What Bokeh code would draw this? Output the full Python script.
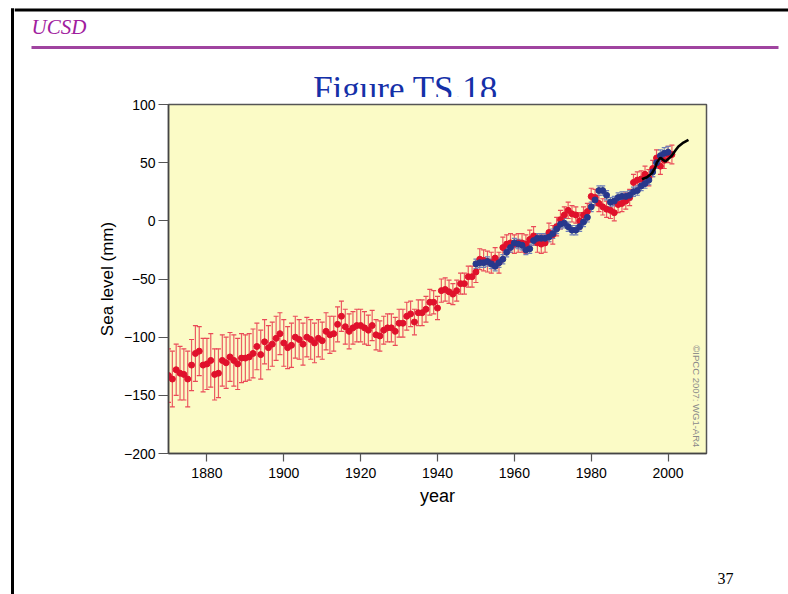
import math
from bokeh.plotting import figure
from bokeh.models import (Range1d, FixedTicker, Whisker, TeeHead, ColumnDataSource)
from bokeh.layouts import column, row
from bokeh.embed import file_html
from bokeh.resources import INLINE
from bokeh.core.properties import value

# ---------------- data ----------------
red_years = list(range(1870, 2002))
red_mm = [
    -133, -136, -128, -131, -132, -136, -124, -114, -112, -124,   # 1870s
    -123, -120, -132, -131, -120, -122, -117, -120, -123, -118,   # 1880s
    -118, -117, -114, -108, -115, -104, -109, -106, -101, -97,    # 1890s
    -105, -109, -107, -100, -102, -106, -100, -102, -105, -101,   # 1900s
    -103, -95, -98, -97, -89, -82, -91, -95, -92, -90,            # 1910s
    -90, -92, -94, -90, -98, -99, -94, -92, -92, -95,             # 1920s
    -88, -88, -82, -80, -87, -79, -79, -76, -70, -70,             # 1930s
    -75, -60, -59, -61, -63, -60, -54, -54, -48, -48,             # 1940s
    -44, -33, -34, -35, -36, -32, -36, -23, -20, -19,             # 1950s
    -20, -19, -19, -20, -16, -13, -19, -20, -19, -10,             # 1960s
    -12, -5, 1, 5, 9, 6, 5, 0, 5, 8,                              # 1970s
    21, 20, 15, 12, 10, 9, 7, 14, 15, 17,                         # 1980s
    20, 33, 35, 36, 40, 37, 45, 54, 47, 52,                       # 1990s
    57, 57,                                                       # 2000s
]
red_err = [
    23, 24, 22, 23, 22, 24, 22, 24, 21, 23,
    22, 23, 22, 21, 22, 22, 21, 22, 22, 21,
    20, 20, 21, 20, 21, 19, 19, 19, 19, 18,
    20, 18, 19, 18, 17, 18, 17, 17, 17, 16,
    16, 16, 16, 15, 15, 13, 15, 15, 14, 14,
    14, 14, 13, 13, 13, 13, 12, 12, 12, 12,
    12, 12, 12, 11, 11, 11, 11, 11, 11, 10,
    10, 10, 10, 10, 9, 9, 9, 9, 9, 9,
    9, 9, 9, 9, 9, 9, 9, 9, 8, 8,
    8, 8, 8, 8, 8, 8, 8, 8, 8, 8,
    8, 8, 8, 7, 7, 7, 7, 7, 7, 7,
    7, 7, 7, 7, 7, 7, 7, 7, 7, 7,
    7, 7, 7, 7, 7, 7, 7, 7, 7, 7,
    7, 8,
]

blue_years = list(range(1950, 2001))
blue_mm = [
    -37, -36, -36, -35, -37, -39, -36, -33, -27, -23,   # 1950s
    -19, -20, -21, -25, -24, -17, -15, -15, -15, -14,   # 1960s
    -11, -7, -3, -2, -5, -8, -8, -5, -1, 3,             # 1970s
    12, 18, 26, 26, 22, 16, 17, 20, 21, 21,             # 1980s
    22, 25, 26, 30, 32, 35, 42, 50, 56, 58,             # 1990s
    59,                                                 # 2000
]
blue_err = [
    4, 4, 4, 4, 4, 4, 4, 4, 4, 4,
    4, 4, 4, 4, 4, 4, 4, 4, 4, 4,
    4, 4, 4, 4, 4, 4, 4, 4, 4, 4,
    4, 4, 4, 4, 4, 4, 4, 4, 4, 4,
    4, 4, 4, 4, 4, 4, 4, 5, 5, 5,
    5,
]

sat_years = [1993.2, 1994.5, 1995.8, 1996.7, 1997.1, 1998.0, 1998.7, 1999.3,
             2000.1, 2001.0, 2001.9, 2002.7, 2004.0, 2005.3]
sat_mm = [35.8, 37.5, 40.9, 46.1, 50.4, 54.2, 52.4, 51.0,
          53.3, 56.1, 60.4, 63.9, 67.3, 69.6]

x_ticks = [1880, 1900, 1920, 1940, 1960, 1980, 2000]
y_ticks = [-200, -150, -100, -50, 0, 50, 100]

# ---------------- colours / fonts ----------------
SANS = "Liberation Sans"
SERIF = "Liberation Serif"
RED = "#e0112b"
RED_BAR = "#ea4a58"
BLUE = "#27388c"
BLUE_BAR = "#6f7fb8"
YELLOW = "#fbfbc6"
PURPLE = "#a0209e"
TITLE_BLUE = "#1530a8"


def no_align(fig):
    if "frame_align" in fig.properties():
        fig.frame_align = False


def deco_fig(w, h, x0, x1, ytop, ybot):
    f = figure(width=w, height=h, x_range=Range1d(x0, x1), y_range=Range1d(ybot, ytop),
               output_backend="svg", toolbar_location=None, min_border=0,
               x_axis_location=None, y_axis_location=None)
    f.grid.visible = False
    f.outline_line_color = None
    f.background_fill_color = "white"
    f.border_fill_color = "white"
    no_align(f)
    return f


# ---------------- left slide border ----------------
strip = deco_fig(14, 594, 0, 14, 0, 594)
strip.segment(x0=[12], y0=[8], x1=[12], y1=[594], line_color="black", line_width=3)
strip.segment(x0=[10.5], y0=[9.5], x1=[14], y1=[9.5], line_color="black", line_width=3)

# ---------------- header (slide) ----------------
top = deco_fig(774, 97, 14, 788, 0, 97)
top.segment(x0=[14], y0=[9.5], x1=[788], y1=[9.5], line_color="black", line_width=3)
top.text(x=[31], y=[26], text=["UCSD"], text_font=value(SERIF), text_font_style="italic",
         text_font_size="21px", text_color=PURPLE, text_baseline="alphabetic")
top.segment(x0=[31], y0=[47], x1=[778], y1=[47], line_color="#a044a0", line_width=3)
top.text(x=[405], y=[89], text=["Figure TS.18"], text_font=value(SERIF),
         text_font_size="35px", text_color=TITLE_BLUE, text_align="center",
         text_baseline="alphabetic")

# ---------------- chart ----------------
p = figure(width=774, height=423, x_range=Range1d(1870, 2010), y_range=Range1d(-200, 100),
           output_backend="svg", toolbar_location=None,
           min_border_left=154, min_border_right=82, min_border_top=7, min_border_bottom=67)
no_align(p)
p.background_fill_color = YELLOW
p.border_fill_color = "white"
p.grid.visible = False
p.outline_line_color = "#555555"
p.outline_line_width = 1.5

red_src = ColumnDataSource(dict(x=red_years, y=red_mm,
                                lo=[v - e for v, e in zip(red_mm, red_err)],
                                hi=[v + e for v, e in zip(red_mm, red_err)]))
blue_src = ColumnDataSource(dict(x=blue_years, y=blue_mm,
                                 lo=[v - e for v, e in zip(blue_mm, blue_err)],
                                 hi=[v + e for v, e in zip(blue_mm, blue_err)]))

p.add_layout(Whisker(base="x", lower="lo", upper="hi", source=red_src,
                     line_color=RED_BAR, line_width=1.2, line_alpha=0.9,
                     lower_head=TeeHead(size=5, line_color=RED_BAR, line_width=1.2),
                     upper_head=TeeHead(size=5, line_color=RED_BAR, line_width=1.2)))
p.scatter("x", "y", source=red_src, size=6, fill_color=RED, line_color=RED)

p.add_layout(Whisker(base="x", lower="lo", upper="hi", source=blue_src,
                     line_color=BLUE_BAR, line_width=1.2, line_alpha=0.9,
                     lower_head=TeeHead(size=5, line_color=BLUE_BAR, line_width=1.2),
                     upper_head=TeeHead(size=5, line_color=BLUE_BAR, line_width=1.2)))
p.scatter("x", "y", source=blue_src, size=6, fill_color=BLUE, line_color=BLUE)

p.line(sat_years, sat_mm, line_color="black", line_width=2.6)

p.text(x=[2007.4], y=[-107], text=["©IPCC 2007: WG1-AR4"], angle=-math.pi / 2,
       text_align="left", text_baseline="middle", text_font=value(SANS),
       text_font_size="9.5px", text_color="#8a8a8a")

p.xaxis.ticker = FixedTicker(ticks=x_ticks)
p.yaxis.ticker = FixedTicker(ticks=y_ticks)
p.yaxis.major_label_overrides = {t: (("\u2212" + str(-t)) if t < 0 else str(t)) for t in y_ticks}
for ax in (p.xaxis[0], p.yaxis[0]):
    ax.axis_line_color = "#444444"
    ax.axis_line_width = 1.5
    ax.major_tick_line_color = "#555555"
    ax.major_tick_line_width = 1.2
    ax.major_tick_in = 0
    ax.minor_tick_line_color = None
    ax.major_label_text_font = SANS
    ax.major_label_text_font_size = "14px"
    ax.major_label_text_color = "black"
    ax.axis_label_text_font = SANS
    ax.axis_label_text_font_style = "normal"
    ax.axis_label_text_color = "black"
p.xaxis.major_tick_out = 8
p.xaxis.major_label_standoff = 6
p.yaxis.major_tick_out = 10
p.yaxis.major_label_standoff = 3
p.xaxis.axis_label = "year"
p.xaxis.axis_label_text_font_size = "18px"
p.xaxis.axis_label_standoff = 5
p.yaxis.axis_label = "Sea level (mm)"
p.yaxis.axis_label_text_font_size = "17px"
p.yaxis.axis_label_standoff = 4

# ---------------- footer (slide number) ----------------
foot = deco_fig(774, 74, 14, 788, 520, 594)
foot.text(x=[725], y=[578], text=["37"], text_font=value(SERIF), text_font_size="16px",
          text_color="black", text_align="center", text_baseline="alphabetic")

layout = row(strip, column(top, p, foot, spacing=0), spacing=0)
open("out.html", "w").write(file_html(layout, INLINE))
